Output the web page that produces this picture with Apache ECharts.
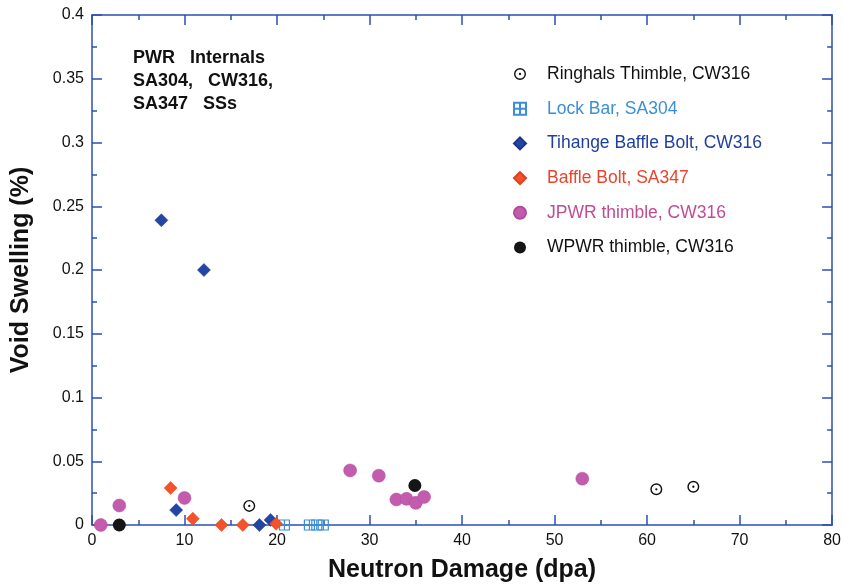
<!DOCTYPE html>
<html>
<head>
<meta charset="utf-8">
<script src="https://cdn.jsdelivr.net/npm/echarts@6/dist/echarts.min.js"></script>
<style>
	html, body { margin: 0; padding: 0; background: #fff; }
	#chart { width: 844px; height: 588px; }
</style>
</head>
<body>
<div id="chart"></div>
<script>
	// 数据
	const ringhals = [[17, 0.015], [61, 0.028], [65, 0.03]];
	const lockBar = [[20.8, 0], [23.5, 0], [24.3, 0], [25.0, 0]];
	const tihange = [[7.5, 0.239], [12.1, 0.2], [9.1, 0.0117], [18.1, 0], [19.3, 0.004]];
	const baffleBolt = [[8.5, 0.029], [10.9, 0.005], [14.0, 0], [16.3, 0], [19.9, 0.001]];
	const jpwr = [[0.95, 0], [2.95, 0.0153], [10.0, 0.0212], [27.9, 0.0428], [31.0, 0.0387],
		[32.9, 0.02], [34.0, 0.0205], [35.0, 0.0174], [35.9, 0.022], [53.0, 0.0363]];
	const wpwr = [[2.95, 0], [34.9, 0.031]];

	const seriesNames = ['Ringhals Thimble, CW316', 'Lock Bar, SA304', 'Tihange Baffle Bolt, CW316',
		'Baffle Bolt, SA347', 'JPWR thimble, CW316', 'WPWR thimble, CW316'];
	const noteLines = ['PWR   Internals', 'SA304,   CW316,', 'SA347   SSs'];

	const axisColor = '#2d4fb2';
	const ringPath = 'path://M0,-10 A10,10 0 1,1 0,10 A10,10 0 1,1 0,-10 Z M0,-7.6 A7.6,7.6 0 1,0 0,7.6 A7.6,7.6 0 1,0 0,-7.6 Z M0,-1.9 A1.9,1.9 0 1,1 0,1.9 A1.9,1.9 0 1,1 0,-1.9 Z';
	const gridPath = 'path://M-5,-5 L5,-5 L5,5 L-5,5 Z M0,-5 L0,5 M-5,0 L5,0';

	const echart = echarts.init(document.getElementById('chart'));

	const axisCommon = function (show) {
		return {
			axisLine: { show: true, onZero: false, lineStyle: { color: axisColor, width: 1.5 } },
			axisTick: { show: true, inside: true, length: 10, lineStyle: { color: axisColor, width: 1.5 } },
			minorTick: { show: true, splitNumber: 2, length: 5, lineStyle: { color: axisColor, width: 1.5 } },
			splitLine: { show: false },
			axisLabel: { show: show, color: '#111', fontSize: 16, fontFamily: 'Liberation Sans' }
		};
	};

	const xBase = axisCommon(true);
	const xTop = axisCommon(false);
	const yBase = axisCommon(true);
	const yRight = axisCommon(false);

	const options = {
		backgroundColor: '#fff',
		animation: false,
		grid: { left: 92, right: 11, top: 15, bottom: 59 },
		xAxis: [Object.assign(xBase, {
				type: 'value', min: 0, max: 80, interval: 10, position: 'bottom',
				name: 'Neutron Damage (dpa)', nameLocation: 'middle', nameGap: 33,
				nameTextStyle: { fontSize: 25, fontWeight: 'bold', color: '#111', fontFamily: 'Liberation Sans' }
			}), Object.assign(xTop, {
				type: 'value', min: 0, max: 80, interval: 10, position: 'top'
			})],
		yAxis: [Object.assign(yBase, {
				type: 'value', min: 0, max: 0.4, interval: 0.05, position: 'left',
				name: 'Void Swelling (%)', nameLocation: 'middle', nameGap: 58,
				nameTextStyle: { fontSize: 25, fontWeight: 'bold', color: '#111', fontFamily: 'Liberation Sans' }
			}), Object.assign(yRight, {
				type: 'value', min: 0, max: 0.4, interval: 0.05, position: 'right'
			})],
		legend: {
			orient: 'vertical',
			left: 508,
			top: 59,
			itemWidth: 12,
			itemHeight: 12,
			itemGap: 14.7,
			textStyle: { fontSize: 17.5, fontFamily: 'Liberation Sans', lineHeight: 20, padding: [0, 0, 0, 16] },
			data: [
				{ name: seriesNames[0], textStyle: { color: '#111' } },
				{ name: seriesNames[1], textStyle: { color: '#3a8fd6' } },
				{ name: seriesNames[2], textStyle: { color: '#1f3f9e' } },
				{ name: seriesNames[3], textStyle: { color: '#e8452c' } },
				{ name: seriesNames[4], textStyle: { color: '#c04c94' } },
				{ name: seriesNames[5], textStyle: { color: '#111' } }
			]
		},
		graphic: noteLines.map(function (line, i) {
			return {
				type: 'text',
				left: 133,
				top: 49 + i * 23,
				style: { text: line, fill: '#111', font: 'bold 18px "Liberation Sans"' }
			};
		}),
		series: [{
				name: seriesNames[0], type: 'scatter', symbol: ringPath, symbolSize: 12,
				itemStyle: { color: '#111', opacity: 1 },
				data: ringhals
			}, {
				name: seriesNames[1], type: 'scatter', symbol: gridPath, symbolSize: 10,
				itemStyle: { color: 'rgba(0,0,0,0)', borderColor: '#3a8fd6', borderWidth: 1.2, opacity: 1 },
				data: lockBar
			}, {
				name: seriesNames[2], type: 'scatter', symbol: 'diamond', symbolSize: 13,
				itemStyle: { color: '#2346a6', borderColor: '#1a3585', borderWidth: 0.5, opacity: 1 },
				data: tihange
			}, {
				name: seriesNames[3], type: 'scatter', symbol: 'diamond', symbolSize: 13,
				itemStyle: { color: '#f4522a', borderColor: '#e0401e', borderWidth: 0.5, opacity: 1 },
				data: baffleBolt
			}, {
				name: seriesNames[4], type: 'scatter', symbol: 'circle', symbolSize: 13,
				itemStyle: { color: '#c45cae', borderColor: '#b04a9c', borderWidth: 0.5, opacity: 1 },
				data: jpwr
			}, {
				name: seriesNames[5], type: 'scatter', symbol: 'circle', symbolSize: 13,
				itemStyle: { color: '#151515', opacity: 1 },
				data: wpwr
			}
		]
	};

	echart.setOption(options);
</script>
</body>
</html>
